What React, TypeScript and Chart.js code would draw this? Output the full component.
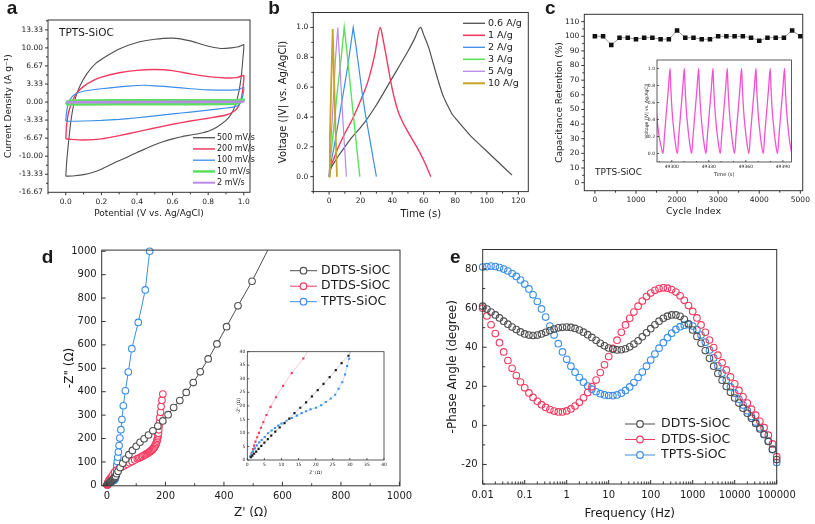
import React, { useEffect, useRef } from "react";
import { Chart, registerables } from "chart.js";

Chart.register(...registerables);

const FONT = "'DejaVu Sans', Verdana, sans-serif";
const BOLD = "'Liberation Sans', Arial, sans-serif";
const W = 815;
const H = 524;
const TXT = "#1a1a1a";

const C_DARK = "#505050";
const C_RED = "#f23a60";
const C_BLUE = "#3a8ee8";
const C_GREEN = "#5ce05c";
const C_PURPLE = "#b98ae8";
const C_GOLD = "#c9a228";
const C_MAGENTA = "#f552d2";

// ---------------- panel a : CV loops (potential V, current A/g) ----------------
const cvLabels = ["500 mV/s", "200 mV/s", "100 mV/s", "10 mV/s", "2 mV/s"];
const cv500 = [
  [0, -13.7], [0.005, -11], [0.015, -7.5], [0.03, -3.2], [0.05, 0.3], [0.08, 3.0], [0.12, 5.3], [0.17, 7.2], [0.23, 8.5],
  [0.3, 9.8], [0.4, 11.0], [0.5, 11.6], [0.6, 11.8], [0.7, 11.3], [0.78, 10.5], [0.87, 9.9], [0.93, 10.0], [0.97, 10.2], [1.0, 10.6],
  [0.995, 8], [0.985, 4.5], [0.97, 1.5], [0.95, -0.8], [0.93, -2.2], [0.9, -3.4], [0.85, -4.6], [0.8, -5.4], [0.75, -5.8],
  [0.7, -6.1], [0.65, -6.4], [0.6, -6.8], [0.55, -7.3], [0.5, -7.9], [0.45, -8.6], [0.4, -9.3], [0.35, -10.1], [0.3, -10.8],
  [0.25, -11.6], [0.2, -12.4], [0.15, -13.0], [0.1, -13.4], [0.05, -13.6], [0, -13.7],
];
const cv200 = [
  [0, -6.8], [0.004, -4.5], [0.015, -2], [0.035, 0], [0.06, 1.6], [0.1, 2.9], [0.15, 3.9], [0.2, 4.6], [0.3, 5.4], [0.4, 5.85],
  [0.5, 6.0], [0.6, 5.8], [0.7, 5.2], [0.8, 4.7], [0.9, 4.45], [0.96, 4.5], [1.0, 4.9],
  [0.995, 2.5], [0.985, 0.5], [0.97, -0.8], [0.95, -1.6], [0.9, -2.4], [0.8, -3.0], [0.7, -3.5], [0.6, -4.1], [0.5, -4.8],
  [0.4, -5.5], [0.3, -6.2], [0.2, -6.8], [0.1, -7.0], [0.03, -6.9], [0, -6.8],
];
const cv100 = [
  [0, -3.5], [0.003, -2.3], [0.01, -0.8], [0.025, 0.5], [0.05, 1.4], [0.1, 2.0], [0.2, 2.45], [0.3, 2.8], [0.4, 3.05], [0.45, 3.1],
  [0.5, 3.0], [0.6, 2.75], [0.7, 2.45], [0.8, 2.25], [0.9, 2.2], [0.97, 2.3], [1.0, 2.7],
  [0.995, 1.2], [0.985, 0.1], [0.97, -0.6], [0.94, -0.95], [0.9, -1.1], [0.8, -1.5], [0.7, -1.85], [0.6, -2.2], [0.5, -2.55],
  [0.4, -2.9], [0.3, -3.2], [0.2, -3.4], [0.1, -3.5], [0.03, -3.55], [0, -3.5],
];
const cv10 = [
  [0, -0.4], [0.01, 0.1], [0.05, 0.3], [0.5, 0.35], [0.95, 0.35], [1.0, 0.45], [0.99, 0.1], [0.95, -0.3], [0.5, -0.4], [0.05, -0.45], [0, -0.4],
];
const cv2 = [[0, -0.1], [0.02, 0.02], [0.5, 0.05], [1, 0.1], [0.98, 0], [0.5, -0.05], [0, -0.1]];
const cvYTicks = [-16.67, -13.33, -10, -6.67, -3.33, 0, 3.33, 6.67, 10, 13.33];
const cvYLabels = ["-16.67", "-13.33", "-10.00", "-6.67", "-3.33", "0.00", "3.33", "6.67", "10.00", "13.33"];
const cvXTicks = [0, 0.2, 0.4, 0.6, 0.8, 1.0];
const cvXLabels = ["0.0", "0.2", "0.4", "0.6", "0.8", "1.0"];

// ---------------- panel b : GCD (time s, voltage V) ----------------
const gcdLabels = ["0.6 A/g", "1 A/g", "2 A/g", "3 A/g", "5 A/g", "10 A/g"];
const gcd06 = [
  [0, 0], [1, 0.05], [3, 0.09], [6, 0.14], [10, 0.2], [15, 0.27], [20, 0.33], [25, 0.4], [30, 0.48], [35, 0.57], [40, 0.66],
  [45, 0.75], [50, 0.84], [54, 0.92], [58, 1.0], [60, 0.95], [63, 0.87], [66, 0.76], [69, 0.65], [72, 0.55], [75, 0.48],
  [78, 0.42], [81, 0.38], [85, 0.33], [90, 0.27], [95, 0.22], [100, 0.17], [105, 0.12], [110, 0.07], [116, 0.01],
];
const gcd1 = [
  [0, 0], [1, 0.06], [3, 0.12], [6, 0.2], [10, 0.29], [15, 0.39], [20, 0.51], [25, 0.65], [29, 0.82], [32.5, 1.0],
  [34, 0.93], [36, 0.82], [38, 0.7], [40, 0.59], [42, 0.5], [44, 0.43], [46, 0.38], [50, 0.3], [55, 0.21], [60, 0.11], [64.5, 0.0],
];
const gcd2 = [[0, 0], [1, 0.08], [3, 0.19], [6, 0.37], [9, 0.56], [12, 0.75], [15.3, 1.0], [17, 0.88], [19, 0.72], [21, 0.56], [23, 0.42], [25, 0.3], [27.5, 0.15], [30, 0.0]];
const gcd3 = [[0, 0], [1, 0.13], [3, 0.33], [5, 0.55], [7.5, 0.78], [9.6, 1.0], [11, 0.87], [13, 0.66], [15, 0.45], [17, 0.25], [19.5, 0.0]];
const gcd5 = [[0, 0], [1, 0.2], [2.5, 0.48], [4, 0.78], [5.5, 1.0], [6.5, 0.82], [8, 0.52], [9.5, 0.25], [11, 0.0]];
const gcd10 = [[0, 0], [0.5, 0.25], [1.3, 0.6], [2.3, 0.99], [3, 0.72], [4, 0.35], [5, 0.0]];
const gcdXTicks = [0, 20, 40, 60, 80, 100, 120];
const gcdYTicks = [0, 0.2, 0.4, 0.6, 0.8, 1.0];
const gcdYLabels = ["0.0", "0.2", "0.4", "0.6", "0.8", "1.0"];

// ---------------- panel c : cycling retention ----------------
const cycles = [0, 200, 400, 600, 800, 1000, 1200, 1400, 1600, 1800, 2000, 2200, 2400, 2600, 2800, 3000, 3200, 3400, 3600, 3800, 4000, 4200, 4400, 4600, 4800, 5000];
const retention = [100, 100, 94, 99, 99, 98, 99, 99, 98, 98, 104, 99, 99, 98, 98, 100, 100, 100, 100, 99, 97, 99, 99, 99, 104, 100];
const retXTicks = [0, 1000, 2000, 3000, 4000, 5000];
const retYTicks = [0, 10, 20, 30, 40, 50, 60, 70, 80, 90, 100, 110];
// inset: repeated charge/discharge around t = 49300 s
const insetStart = [[49287.5, 0.5], [49288.5, 0.34], [49290, 0.18], [49291.5, 0.07]];
const insetValleys = [49292.9, 49304.5, 49316.1, 49327.7, 49339.3, 49350.9, 49362.5, 49374.1, 49385.7, 49397.3];
const insetShapeT = [0, 1.2, 2.8, 4.3, 5.7, 6.2, 6.9, 7.7, 8.7, 9.9];
const insetShapeV = [0, 0.22, 0.5, 0.76, 1.0, 0.8, 0.6, 0.43, 0.28, 0.13];
const insetXTicks = [49300, 49330, 49360, 49390];
const insetYTicks = [0, 0.2, 0.4, 0.6, 0.8, 1.0];

// ---------------- panel d : Nyquist (Z', -Z'') ----------------
const nyqLabels = ["DDTS-SiOC", "DTDS-SiOC", "TPTS-SiOC"];
const nyqDDTS = [
  [1.1, 1.0], [1.5, 1.6], [2.0, 2.3], [2.6, 3.1], [3.3, 4.1], [4.1, 5.2], [5.0, 6.4], [6.0, 7.7], [7.0, 9.0], [8.2, 10.5],
  [9.5, 12.0], [10.9, 13.6], [12.3, 15.3], [13.8, 17.3], [15.5, 19.3], [17.2, 21.3], [18.9, 23.5], [20.6, 25.8], [22.3, 28.1],
  [24.1, 30.6], [25.9, 33.2], [27.6, 35.8], [29.6, 38.5], [33, 50], [38, 60], [45, 76], [54, 94], [64, 112], [75, 131], [87, 149],
  [100, 167], [113, 184], [127, 199], [142, 215], [157, 233], [174, 253], [191, 275], [209, 302], [228, 332], [249, 362],
  [271, 397], [295, 439], [319, 485], [346, 540], [376, 604], [409, 678], [448, 767], [496, 872], [560, 1030],
];
const nyqDTDS = [
  [1.0, 1.5], [1.3, 2.7], [1.7, 4.0], [2.0, 5.3], [2.4, 6.8], [2.9, 8.4], [3.4, 10.0], [4.0, 11.9], [4.7, 14.0], [5.6, 16.6],
  [6.8, 19.6], [8.4, 23.2], [10.5, 27.4], [13.0, 32.1], [16.4, 37.5], [20.5, 46], [26, 56], [33, 64], [41, 71], [50, 78],
  [59, 84], [68, 90], [77, 96], [86, 102], [95, 108], [104, 114], [109, 116.5], [113, 119], [118, 122], [122, 125], [127, 128],
  [131, 131], [135, 134], [139, 137], [143, 140], [146, 143], [149, 146], [152, 149], [155, 152.5], [157, 156], [160, 160],
  [162, 164], [164, 168.5], [166, 173], [168, 178], [169, 183], [171, 189], [172, 195], [173, 201], [174, 208], [175, 215],
  [176, 222], [177, 237], [178, 253], [180, 270], [181, 290], [183, 312], [185, 337], [188, 364], [191, 390],
];
const nyqTPTS = [
  [0.8, 1.2], [1.2, 2], [1.7, 3.1], [2.2, 4.3], [2.8, 5.4], [3.5, 6.5], [4.2, 7.4], [5.1, 8.5], [6.1, 9.9], [7.1, 10.9],
  [8.1, 11.8], [9.1, 12.7], [10.0, 13.5], [11.5, 14.5], [13.0, 15.5], [14.5, 16.4], [15.9, 17.3], [17.2, 18.0], [18.5, 18.7],
  [20.1, 19.3], [21.6, 20.2], [23.0, 21.4], [24.4, 22.7], [25.7, 24.1], [26.7, 26.3], [27.8, 28.7], [28.6, 31.6], [29.2, 34.7],
  [29.8, 37.4], [30.5, 42], [31.2, 50], [32, 60], [33, 72], [34, 86], [35.5, 102], [37, 120], [39, 142], [41.5, 170], [44, 202],
  [47.5, 238], [51, 281], [56, 340], [63, 404], [73, 484], [85, 584], [107, 696], [131, 835], [146, 1000],
];
const nyqXTicks = [0, 200, 400, 600, 800, 1000];
const nyqYTicks = [0, 100, 200, 300, 400, 500, 600, 700, 800, 900, 1000];
const nyqInsetTicks = [0, 5, 10, 15, 20, 25, 30, 35, 40];

// ---------------- panel e : Bode phase ----------------
const bodeFreq = [
  0.01, 0.0126, 0.0158, 0.02, 0.0251, 0.0316, 0.0398, 0.0501, 0.0631, 0.0794,
  0.1, 0.126, 0.158, 0.2, 0.251, 0.316, 0.398, 0.501, 0.631, 0.794,
  1, 1.26, 1.58, 2, 2.51, 3.16, 3.98, 5.01, 6.31, 7.94,
  10, 12.6, 15.8, 20, 25.1, 31.6, 39.8, 50.1, 63.1, 79.4,
  100, 126, 158, 200, 251, 316, 398, 501, 631, 794,
  1000, 1260, 1580, 2000, 2510, 3160, 3980, 5010, 6310, 7940,
  10000, 12600, 15800, 20000, 25100, 31600, 39800, 50100, 63100, 79400, 100000,
];
const bodeDDTS = [
  61, 59.5, 58, 56.5, 55, 53.3, 51.8, 50.3, 49, 47.8,
  46.8, 46.2, 46, 46.2, 46.8, 47.6, 48.5, 49.3, 49.9, 50.2,
  50.3, 50.1, 49.6, 48.8, 47.7, 46.4, 45, 43.5, 42, 40.7,
  39.6, 38.9, 38.6, 38.7, 39.2, 40.2, 41.6, 43.3, 45.3, 47.4,
  49.5, 51.5, 53.3, 54.8, 55.9, 56.5, 56.5, 55.8, 54.3, 52,
  48.8, 45.5, 42, 38.3, 34.3, 30.3, 26.6, 23.1, 19.9, 16.9,
  14, 11.4, 8.8, 6.2, 3.6, 1, -1.8, -4.8, -8.2, -12.2, -17.5,
];
const bodeDTDS = [
  60, 56, 51.5, 47, 42.3, 37.6, 33.2, 29.2, 25.5, 22.2,
  19.2, 16.6, 14.3, 12.3, 10.6, 9.2, 8.1, 7.3, 6.9, 6.9,
  7.4, 8.4, 9.9, 11.8, 14.1, 16.8, 19.8, 23.2, 27, 31,
  35.2, 39.4, 43.6, 47.6, 51.4, 54.8, 58, 61, 63.6, 65.9,
  67.7, 69.1, 70, 70.4, 70.2, 69.5, 68.2, 66.3, 64, 61.3,
  58.3, 55, 51.4, 47.6, 43.7, 39.8, 35.9, 32.1, 28.4, 24.8,
  21.3, 17.9, 14.6, 11.4, 8.3, 5.2, 2.1, -1.2, -5, -9.5, -16,
];
const bodeTPTS = [
  81, 81.2, 81.5, 81.3, 80.8, 80, 79, 77.7, 76.2, 74.4,
  72.3, 69.8, 66.8, 63.4, 59.6, 55.4, 50.8, 46.2, 41.8, 37.6,
  33.8, 30.3, 27.2, 24.5, 22.1, 20.1, 18.5, 17.2, 16.2, 15.6,
  15.3, 15.2, 15.6, 16.5, 17.9, 19.7, 21.9, 24.5, 27.3, 30.3,
  33.4, 36.5, 39.5, 42.3, 44.9, 47.2, 49.1, 50.5, 51.3, 51.5,
  50.8, 49, 46.2, 42.6, 38.6, 34.5, 30.5, 26.7, 23.1, 19.7,
  16.5, 13.4, 10.4, 7.5, 4.6, 1.7, -1.2, -4.4, -8, -12.5, -19,
];
const bodeXTicks = [0.01, 0.1, 1, 10, 100, 1000, 10000, 100000];
const bodeXLabels = ["0.01", "0.1", "1", "10", "100", "1000", "10000", "100000"];
const bodeYTicks = [-20, 0, 20, 40, 60, 80];

// ---------------- helpers ----------------
const pts = (arr: number[][]) => arr.map(([x, y]) => ({ x, y }));
const zip = (xs: number[], ys: number[]) => xs.map((x, i) => ({ x, y: ys[i] }));

function axis(o: any) {
  const ticks = o.ticks as number[];
  const labels = (o.labels as string[]) || ticks.map((v) => String(v));
  return {
    type: o.type || "linear",
    min: o.min,
    max: o.max,
    afterBuildTicks: (s: any) => {
      s.ticks = ticks.map((v) => ({ value: v }));
    },
    ticks: {
      autoSkip: false,
      maxRotation: 0,
      minRotation: 0,
      padding: o.pad,
      color: TXT,
      font: { family: FONT, size: o.size },
      callback: (_v: any, i: number) => labels[i],
    },
    grid: { display: false, drawTicks: false },
    border: { display: false },
    title: o.title
      ? { display: true, text: o.title, padding: 0, color: TXT, font: { family: FONT, size: o.titleSize } }
      : { display: false },
  };
}

function decoPlugin(d: any) {
  return {
    id: "deco",
    beforeDraw(chart: any) {
      if (!d.white) return;
      const { ctx, chartArea: a } = chart;
      ctx.save();
      ctx.fillStyle = "#fff";
      ctx.fillRect(a.left, a.top, a.right - a.left, a.bottom - a.top);
      ctx.restore();
    },
    afterDraw(chart: any) {
      const { ctx, chartArea: a, scales } = chart;
      ctx.save();
      ctx.strokeStyle = "#333";
      ctx.lineWidth = d.frameWidth || 1;
      ctx.strokeRect(a.left, a.top, a.right - a.left, a.bottom - a.top);
      const dir = d.inward ? -1 : 1;
      const inX = (v: number) => v >= scales.x.min && v <= scales.x.max;
      const inY = (v: number) => v >= scales.y.min && v <= scales.y.max;
      const tx = (vals: number[], len: number) =>
        vals.filter(inX).forEach((v) => {
          const p = scales.x.getPixelForValue(v);
          ctx.beginPath();
          ctx.moveTo(p, a.bottom);
          ctx.lineTo(p, a.bottom + dir * len);
          ctx.stroke();
        });
      const ty = (vals: number[], len: number) =>
        vals.filter(inY).forEach((v) => {
          const p = scales.y.getPixelForValue(v);
          ctx.beginPath();
          ctx.moveTo(a.left, p);
          ctx.lineTo(a.left - dir * len, p);
          ctx.stroke();
        });
      const ml = d.majorLen ?? 3;
      const nl = d.minorLen ?? 2;
      tx(d.xMajor || [], ml);
      tx(d.xMinor || [], nl);
      ty(d.yMajor || [], ml);
      ty(d.yMinor || [], nl);
      if (d.legend) {
        const lg = d.legend;
        lg.items.forEach((it: any, i: number) => {
          const y = lg.y + i * lg.dy;
          ctx.strokeStyle = it.color;
          ctx.lineWidth = it.lw || 1.3;
          ctx.beginPath();
          ctx.moveTo(lg.x, y);
          ctx.lineTo(lg.x + lg.len, y);
          ctx.stroke();
          if (lg.r) {
            ctx.lineWidth = 1.2;
            ctx.beginPath();
            ctx.arc(lg.x + lg.len / 2, y, lg.r, 0, Math.PI * 2);
            ctx.fillStyle = "#fff";
            ctx.fill();
            ctx.stroke();
          }
          ctx.fillStyle = TXT;
          ctx.font = `${lg.size}px ${FONT}`;
          ctx.textBaseline = "middle";
          ctx.textAlign = "left";
          ctx.fillText(it.label, lg.tx, y);
        });
      }
      (d.texts || []).forEach((t: any) => {
        ctx.fillStyle = TXT;
        ctx.font = `${t.bold ? "bold " : ""}${t.size}px ${t.family || FONT}`;
        ctx.textBaseline = t.baseline || "middle";
        ctx.textAlign = "left";
        ctx.fillText(t.text, t.x, t.y);
      });
      ctx.restore();
    },
  };
}

function makeChart(canvas: HTMLCanvasElement, s: any) {
  const { box, yW, xH } = s;
  const xs = { ...s.x, afterFit: (sc: any) => { sc.height = xH; } };
  const ys = { ...s.y, afterFit: (sc: any) => { sc.width = yW; } };
  return new Chart(canvas as any, {
    type: "scatter",
    data: { datasets: s.datasets },
    options: {
      animation: false,
      responsive: false,
      maintainAspectRatio: false,
      events: [],
      layout: { padding: { left: box.L - yW, top: box.T, right: W - box.R, bottom: H - box.B - xH } },
      plugins: { legend: { display: false }, tooltip: { enabled: false } },
      scales: { x: xs, y: ys },
    } as any,
    plugins: [decoPlugin(s.deco)],
  } as any);
}

const lineDs = (data: any[], color: string, width: number, extra: any = {}) => ({
  data,
  showLine: true,
  borderColor: color,
  backgroundColor: color,
  borderWidth: width,
  pointRadius: 0,
  tension: 0,
  ...extra,
});

function buildSpecs() {
  // inset c series
  const insetC: any[] = pts(insetStart);
  insetValleys.forEach((tv, k) => {
    if (k === insetValleys.length - 1) {
      insetC.push({ x: tv, y: 0 });
      return;
    }
    insetShapeT.forEach((dt, j) => insetC.push({ x: tv + dt, y: insetShapeV[j] }));
  });

  const logMinor: number[] = [];
  for (let e = -2; e < 5; e++) for (let m = 2; m <= 9; m++) logMinor.push(m * Math.pow(10, e));

  const specA = {
    box: { L: 48, T: 20, R: 250, B: 192.3 },
    yW: 45.1,
    xH: 26.4,
    x: axis({ min: -0.1, max: 1.035, ticks: cvXTicks, labels: cvXLabels, size: 7.5, pad: 5, title: "Potential (V vs. Ag/AgCl)", titleSize: 9 }),
    y: axis({ min: -16.6667, max: 15.15, ticks: cvYTicks, labels: cvYLabels, size: 7.5, pad: 5, title: "Current Density (A g\u207B\u00B9)", titleSize: 9 }),
    datasets: [
      lineDs(pts(cv2), C_PURPLE, 2, { tension: 0.15 }),
      lineDs(pts(cv10), C_GREEN, 2.5, { tension: 0.15 }),
      lineDs(pts(cv100), C_BLUE, 1.2, { tension: 0.15 }),
      lineDs(pts(cv200), C_RED, 1.4, { tension: 0.15 }),
      lineDs(pts(cv500), C_DARK, 1.1, { tension: 0.15 }),
    ],
    deco: {
      xMajor: cvXTicks,
      xMinor: [-0.1, 0.1, 0.3, 0.5, 0.7, 0.9],
      yMajor: cvYTicks,
      yMinor: [-15, -11.67, -8.33, -5, -1.67, 1.67, 5, 8.33, 11.67, 15],
      legend: {
        x: 193, len: 22, tx: 217, y: 137.7, dy: 11.25, size: 8,
        items: [
          { label: cvLabels[0], color: C_DARK },
          { label: cvLabels[1], color: C_RED, lw: 1.5 },
          { label: cvLabels[2], color: C_BLUE },
          { label: cvLabels[3], color: C_GREEN, lw: 2.5 },
          { label: cvLabels[4], color: C_PURPLE, lw: 2 },
        ],
      },
      texts: [
        { text: "TPTS-SiOC", x: 59, y: 33, size: 10.5 },
        { text: "a", x: 6.7, y: 13.5, size: 19, bold: true, family: BOLD, baseline: "alphabetic" },
      ],
    },
  };

  const specB = {
    box: { L: 313.3, T: 12.5, R: 528.3, B: 191.6 },
    yW: 36,
    xH: 28.7,
    x: axis({ min: -10, max: 126.3, ticks: gcdXTicks, size: 7.5, pad: 5, title: "Time (s)", titleSize: 10 }),
    y: axis({ min: -0.1, max: 1.1, ticks: gcdYTicks, labels: gcdYLabels, size: 7.5, pad: 5, title: "Voltage (|V| vs. Ag/AgCl)", titleSize: 10 }),
    datasets: [
      lineDs(pts(gcd10), C_GOLD, 1.8),
      lineDs(pts(gcd5), C_PURPLE, 1.2),
      lineDs(pts(gcd3), C_GREEN, 1.4),
      lineDs(pts(gcd2), C_BLUE, 1.2),
      lineDs(pts(gcd1), C_RED, 1.4, { cubicInterpolationMode: "monotone" }),
      lineDs(pts(gcd06), C_DARK, 1.2, { cubicInterpolationMode: "monotone" }),
    ],
    deco: {
      xMajor: gcdXTicks,
      xMinor: [-10, 10, 30, 50, 70, 90, 110],
      yMajor: gcdYTicks,
      yMinor: [-0.1, 0.1, 0.3, 0.5, 0.7, 0.9, 1.1],
      legend: {
        x: 463, len: 22, tx: 488, y: 23.3, dy: 12, size: 9.5,
        items: [
          { label: gcdLabels[0], color: C_DARK },
          { label: gcdLabels[1], color: C_RED, lw: 1.6 },
          { label: gcdLabels[2], color: C_BLUE },
          { label: gcdLabels[3], color: C_GREEN, lw: 1.6 },
          { label: gcdLabels[4], color: C_PURPLE },
          { label: gcdLabels[5], color: C_GOLD, lw: 2 },
        ],
      },
      texts: [{ text: "b", x: 268.3, y: 13.5, size: 19, bold: true, family: BOLD, baseline: "alphabetic" }],
    },
  };

  const specC = {
    box: { L: 584.3, T: 14.3, R: 805.7, B: 190.7 },
    yW: 29.7,
    xH: 26.4,
    x: axis({ min: -257, max: 5058, ticks: retXTicks, size: 7.5, pad: 5, title: "Cycle Index", titleSize: 9.5 }),
    y: axis({ min: -5.5, max: 115, ticks: retYTicks, size: 7.5, pad: 5, title: "Capacitance Retention (%)", titleSize: 9 }),
    datasets: [
      {
        data: zip(cycles, retention),
        showLine: true,
        borderColor: "#9a9a9a",
        borderWidth: 1,
        pointStyle: "rect",
        pointRadius: 3.2,
        pointBackgroundColor: "#111",
        pointBorderColor: "#111",
        pointBorderWidth: 0,
      },
    ],
    deco: {
      xMajor: retXTicks,
      xMinor: [500, 1500, 2500, 3500, 4500],
      yMajor: retYTicks,
      yMinor: [5, 15, 25, 35, 45, 55, 65, 75, 85, 95, 105],
      texts: [
        { text: "TPTS-SiOC", x: 595, y: 173, size: 9 },
        { text: "c", x: 545, y: 13.5, size: 19, bold: true, family: BOLD, baseline: "alphabetic" },
      ],
    },
  };

  const specCi = {
    box: { L: 657, T: 60, R: 791.5, B: 162 },
    yW: 13,
    xH: 15.7,
    x: axis({ min: 49288, max: 49397, ticks: insetXTicks, size: 4.5, pad: 2, title: "Time (s)", titleSize: 5 }),
    y: axis({ min: -0.1, max: 1.1, ticks: insetYTicks, labels: gcdYLabels, size: 4.5, pad: 2, title: "Voltage (|V| vs. Ag/AgCl)", titleSize: 4.5 }),
    datasets: [lineDs(insetC, C_MAGENTA, 1.3, { cubicInterpolationMode: "monotone" })],
    deco: {
      white: true,
      frameWidth: 0.8,
      inward: true,
      majorLen: 2,
      minorLen: 1,
      xMajor: insetXTicks,
      xMinor: [49290, 49310, 49320, 49340, 49350, 49370, 49380],
      yMajor: insetYTicks,
    },
  };

  const nyqDs = (data: number[][], color: string, clip: boolean) => ({
    data: pts(data),
    showLine: true,
    borderColor: color,
    borderWidth: 1,
    pointRadius: 3.3,
    pointBorderWidth: 1.1,
    pointBorderColor: color,
    pointBackgroundColor: "#fff",
    clip: clip ? undefined : false,
  });

  const specD = {
    box: { L: 101.7, T: 250.1, R: 400, B: 485.8 },
    yW: 38.9,
    xH: 33.9,
    x: axis({ min: -18, max: 1002, ticks: nyqXTicks, size: 10, pad: 5, title: "Z' (\u03A9)", titleSize: 12 }),
    y: axis({ min: -2, max: 1005, ticks: nyqYTicks, size: 10, pad: 5, title: "-Z\" (\u03A9)", titleSize: 12 }),
    datasets: [nyqDs(nyqDDTS, C_DARK, true), nyqDs(nyqDTDS, C_RED, false), nyqDs(nyqTPTS, C_BLUE, false)],
    deco: {
      inward: true,
      majorLen: 4,
      minorLen: 2.5,
      xMajor: nyqXTicks,
      xMinor: [100, 300, 500, 700, 900],
      yMajor: nyqYTicks,
      legend: {
        x: 290, len: 27, tx: 321, y: 270.7, dy: 15.5, size: 12.5, r: 3.3,
        items: [
          { label: nyqLabels[0], color: C_DARK, lw: 1 },
          { label: nyqLabels[1], color: C_RED, lw: 1 },
          { label: nyqLabels[2], color: C_BLUE, lw: 1 },
        ],
      },
      texts: [{ text: "d", x: 41.7, y: 263.3, size: 19, bold: true, family: BOLD, baseline: "alphabetic" }],
    },
  };

  const insetDs = (data: number[][], color: string, lineColor: string) => ({
    data: pts(data),
    showLine: true,
    borderColor: lineColor,
    borderWidth: 0.7,
    pointStyle: "rect",
    pointRadius: 1.5,
    pointBorderWidth: 0,
    pointBackgroundColor: color,
  });

  const specDi = {
    box: { L: 247.3, T: 351.7, R: 384, B: 460 },
    yW: 11,
    xH: 16,
    x: axis({ min: 0, max: 40, ticks: nyqInsetTicks, size: 4.5, pad: 2, title: "Z' (\u03A9)", titleSize: 4.5 }),
    y: axis({ min: 0, max: 40, ticks: nyqInsetTicks, size: 4.5, pad: 2, title: "-Z'' (\u03A9)", titleSize: 4.5 }),
    datasets: [
      insetDs(nyqDDTS, "#1a1a1a", "#bbbbbb"),
      insetDs(nyqTPTS, C_BLUE, "#a9cdf5"),
      insetDs(nyqDTDS, C_RED, "#f7a8b8"),
    ],
    deco: {
      white: true,
      frameWidth: 0.8,
      inward: true,
      majorLen: 2,
      xMajor: nyqInsetTicks,
      yMajor: nyqInsetTicks,
    },
  };

  const bodeDs = (ys: number[], color: string) => ({
    data: zip(bodeFreq, ys),
    showLine: false,
    pointRadius: 3.3,
    pointBorderWidth: 1.1,
    pointBorderColor: color,
    pointBackgroundColor: "rgba(255,255,255,0)",
    clip: false,
  });

  const specE = {
    box: { L: 482.7, T: 249.5, R: 776.7, B: 484 },
    yW: 36.6,
    xH: 37.2,
    x: axis({ type: "logarithmic", min: 0.01, max: 100000, ticks: bodeXTicks, labels: bodeXLabels, size: 10, pad: 5, title: "Frequency (Hz)", titleSize: 12 }),
    y: axis({ min: -30, max: 90, ticks: bodeYTicks, size: 10, pad: 5, title: "-Phase Angle (degree)", titleSize: 12 }),
    datasets: [bodeDs(bodeDDTS, C_DARK), bodeDs(bodeDTDS, C_RED), bodeDs(bodeTPTS, C_BLUE)],
    deco: {
      inward: true,
      majorLen: 4,
      minorLen: 2.5,
      xMajor: bodeXTicks,
      xMinor: logMinor,
      yMajor: bodeYTicks,
      yMinor: [-30, -10, 10, 30, 50, 70, 90],
      legend: {
        x: 625, len: 30, tx: 661, y: 424, dy: 15.5, size: 12.5, r: 3.3,
        items: [
          { label: nyqLabels[0], color: C_DARK, lw: 1 },
          { label: nyqLabels[1], color: C_RED, lw: 1 },
          { label: nyqLabels[2], color: C_BLUE, lw: 1 },
        ],
      },
      texts: [{ text: "e", x: 450, y: 263.3, size: 19, bold: true, family: BOLD, baseline: "alphabetic" }],
    },
  };

  return [specA, specB, specC, specD, specE, specCi, specDi];
}

export default function App() {
  const refs = useRef<(HTMLCanvasElement | null)[]>([]);
  const count = 7;
  useEffect(() => {
    const charts = buildSpecs().map((s, i) => makeChart(refs.current[i] as HTMLCanvasElement, s));
    return () => charts.forEach((c) => c.destroy());
  }, []);
  return (
    <div style={{ position: "absolute", left: 0, top: 0, width: W, height: H, background: "#fff", overflow: "hidden" }}>
      {Array.from({ length: count }).map((_, i) => (
        <canvas
          key={i}
          ref={(el) => {
            refs.current[i] = el;
          }}
          width={W}
          height={H}
          style={{ position: "absolute", left: 0, top: 0, width: W, height: H }}
        />
      ))}
    </div>
  );
}
